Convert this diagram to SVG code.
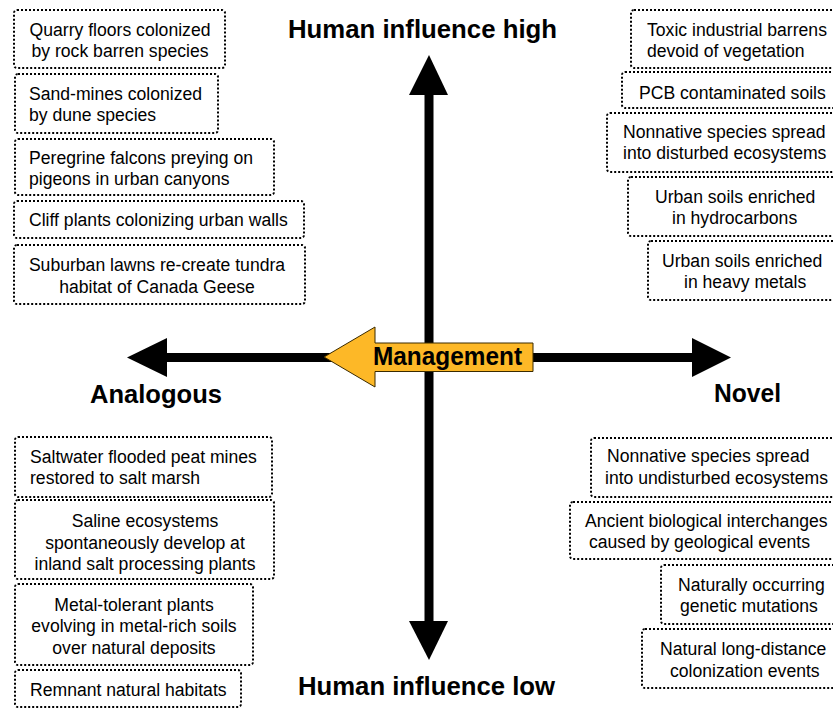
<svg xmlns="http://www.w3.org/2000/svg" width="833" height="708" viewBox="0 0 833 708">
<style>
.box{fill:#fff;stroke:#000;stroke-width:2;stroke-dasharray:2 2}
.t{font-family:"Liberation Sans",Arial,sans-serif;font-size:17.6px;fill:#000}
.m{text-anchor:middle}
.h{font-family:"Liberation Sans",Arial,sans-serif;font-weight:bold;font-size:25px;fill:#000}
.ax{stroke:#000;stroke-width:9;fill:none}
.ah{fill:#000}
</style>
<rect width="833" height="708" fill="#fff"/>
<g id="connectors">
<line class="ax" x1="160" y1="357.5" x2="700" y2="357.5"/>
<line class="ax" x1="429" y1="90" x2="429" y2="626"/>
<polygon class="ah" points="127,357.5 167,338 167,377"/>
<polygon class="ah" points="731,357.5 692,338 692,377"/>
<polygon class="ah" points="429,55 409,95 448,95"/>
<polygon class="ah" points="429,660 409,621 448,621"/>
</g>
<g id="management">
<polygon points="324,357 375,327 375,343 533,343 533,371.5 375,371.5 375,387" fill="#FDB827" stroke="#3a2a00" stroke-width="1"/>
<text class="h" x="447.5" y="365" text-anchor="middle" textLength="149" lengthAdjust="spacingAndGlyphs">Management</text>
</g>
<g id="axis-labels">
<text class="h" x="288" y="38" textLength="269" lengthAdjust="spacingAndGlyphs">Human influence high</text>
<text class="h" x="298" y="695" textLength="257" lengthAdjust="spacingAndGlyphs">Human influence low</text>
<text class="h" x="90" y="403" textLength="132" lengthAdjust="spacingAndGlyphs">Analogous</text>
<text class="h" x="714" y="402" textLength="67" lengthAdjust="spacingAndGlyphs">Novel</text>
</g>
<g id="tl1"><rect class="box" x="14" y="10" width="211" height="58" rx="3"/>
<text class="t m" x="120" y="36">Quarry floors colonized</text><text class="t m" x="120" y="57">by rock barren species</text></g>
<g id="tl2"><rect class="box" x="15" y="74" width="203" height="59" rx="3"/>
<text class="t" x="29" y="100">Sand-mines colonized</text><text class="t" x="29" y="121">by dune species</text></g>
<g id="tl3"><rect class="box" x="15" y="139" width="259" height="56" rx="3"/>
<text class="t" x="29" y="164">Peregrine falcons preying on</text><text class="t" x="29" y="185">pigeons in urban canyons</text></g>
<g id="tl4"><rect class="box" x="14" y="201" width="290" height="37" rx="3"/>
<text class="t" x="29" y="226">Cliff plants colonizing urban walls</text></g>
<g id="tl5"><rect class="box" x="14" y="245" width="291" height="59" rx="3"/>
<text class="t m" x="157" y="271">Suburban lawns re-create tundra</text><text class="t m" x="157" y="293">habitat of Canada Geese</text></g>
<g id="tr1"><rect class="box" x="631" y="10" width="210" height="58" rx="3"/>
<text class="t" x="647" y="36">Toxic industrial barrens</text><text class="t" x="647" y="57">devoid of vegetation</text></g>
<g id="tr2"><rect class="box" x="622" y="72" width="219" height="36" rx="3"/>
<text class="t" x="639" y="99">PCB contaminated soils</text></g>
<g id="tr3"><rect class="box" x="607" y="113" width="234" height="59" rx="3"/>
<text class="t" x="623" y="138">Nonnative species spread</text><text class="t" x="623" y="159">into disturbed ecosystems</text></g>
<g id="tr4"><rect class="box" x="628" y="177" width="213" height="59" rx="3"/>
<text class="t" x="655" y="203">Urban soils enriched</text><text class="t" x="672" y="224">in hydrocarbons</text></g>
<g id="tr5"><rect class="box" x="648" y="241" width="193" height="59" rx="3"/>
<text class="t" x="662" y="267">Urban soils enriched</text><text class="t" x="684" y="288">in heavy metals</text></g>
<g id="bl1"><rect class="box" x="15" y="437" width="257" height="60" rx="3"/>
<text class="t" x="30" y="463">Saltwater flooded peat mines</text><text class="t" x="30" y="484">restored to salt marsh</text></g>
<g id="bl2"><rect class="box" x="15" y="500" width="259" height="79" rx="3"/>
<text class="t m" x="145" y="527">Saline ecosystems</text><text class="t m" x="145" y="549">spontaneously develop at</text><text class="t m" x="145" y="570">inland salt processing plants</text></g>
<g id="bl3"><rect class="box" x="15" y="584" width="238" height="81" rx="3"/>
<text class="t m" x="134" y="611">Metal-tolerant plants</text><text class="t m" x="134" y="632">evolving in metal-rich soils</text><text class="t m" x="134" y="654">over natural deposits</text></g>
<g id="bl4"><rect class="box" x="15" y="670" width="226" height="37" rx="3"/>
<text class="t" x="30" y="696">Remnant natural habitats</text></g>
<g id="br1"><rect class="box" x="591" y="438" width="250" height="59" rx="3"/>
<text class="t" x="607" y="462">Nonnative species spread</text><text class="t" x="605" y="484">into undisturbed ecosystems</text></g>
<g id="br2"><rect class="box" x="570" y="502" width="271" height="57" rx="3"/>
<text class="t" x="585" y="527">Ancient biological interchanges</text><text class="t" x="589" y="548">caused by geological events</text></g>
<g id="br3"><rect class="box" x="661" y="565" width="180" height="59" rx="3"/>
<text class="t" x="678" y="591">Naturally occurring</text><text class="t" x="680" y="612">genetic mutations</text></g>
<g id="br4"><rect class="box" x="642" y="629" width="199" height="59" rx="3"/>
<text class="t" x="660" y="655">Natural long-distance</text><text class="t" x="670" y="677">colonization events</text></g>
</svg>
